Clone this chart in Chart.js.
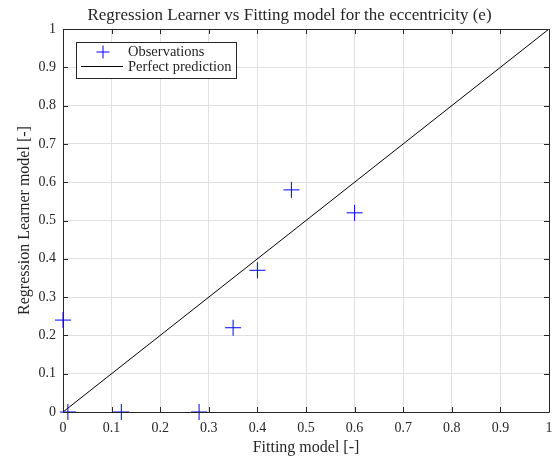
<!DOCTYPE html>
<html>
<head>
<meta charset="utf-8">
<script src="https://cdn.jsdelivr.net/npm/chart.js@4/dist/chart.umd.min.js"></script>
<style>
  html, body { margin: 0; padding: 0; background: #fff; }
  #wrap { width: 553px; height: 461px; }
</style>
</head>
<body>
<div id="wrap"><canvas id="grafico" width="553" height="461"></canvas></div>
<script>
// Eccentricity values: fitting model (x) vs regression learner (y)
const fittingModel = [0, 0.01, 0.12, 0.28, 0.35, 0.40, 0.47, 0.60];
const learnerModel = [0.24, 0, 0, 0, 0.22, 0.37, 0.58, 0.52];
const perfectLine = [0, 1];
const tickLabels = ['0', '0.1', '0.2', '0.3', '0.4', '0.5', '0.6', '0.7', '0.8', '0.9', '1'];

const chartTitle = 'Regression Learner vs Fitting model for the eccentricity (e)';
const xTitle = 'Fitting model [-]';
const yTitle = 'Regression Learner model [-]';

const SERIF = '"Liberation Serif", "DejaVu Serif", serif';
const INK = '#262626';

// title, box, inward ticks and legend drawn the way MATLAB does
const matlabLook = {
  id: 'matlabLook',
  afterDatasetsDraw(chart) {
    const { ctx, chartArea: a, scales } = chart;
    ctx.save();
    ctx.strokeStyle = INK;
    ctx.lineWidth = 1;
    ctx.beginPath();
    ctx.rect(Math.round(a.left) + 0.5, Math.round(a.top) + 0.5,
             Math.round(a.right - a.left), Math.round(a.bottom - a.top));
    ctx.stroke();

    const tl = 5;
    ctx.beginPath();
    scales.x.ticks.forEach(t => {
      const px = Math.round(scales.x.getPixelForValue(t.value)) + 0.5;
      ctx.moveTo(px, a.bottom); ctx.lineTo(px, a.bottom - tl);
      ctx.moveTo(px, a.top); ctx.lineTo(px, a.top + tl);
    });
    scales.y.ticks.forEach(t => {
      const py = Math.round(scales.y.getPixelForValue(t.value)) + 0.5;
      ctx.moveTo(a.left, py); ctx.lineTo(a.left + tl, py);
      ctx.moveTo(a.right, py); ctx.lineTo(a.right - tl, py);
    });
    ctx.stroke();

    // title
    ctx.fillStyle = INK;
    ctx.font = '17px ' + SERIF;
    ctx.textAlign = 'center';
    ctx.textBaseline = 'alphabetic';
    ctx.fillText(chartTitle, 289.5, 20);

    // legend
    const lx = 76.5, ly = 42.5, lw = 160, lh = 36;
    ctx.fillStyle = '#fff';
    ctx.fillRect(lx, ly, lw, lh);
    ctx.strokeStyle = INK;
    ctx.strokeRect(lx, ly, lw, lh);

    const ds = chart.data.datasets;
    ctx.strokeStyle = ds[0].borderColor;
    ctx.beginPath();
    ctx.moveTo(96.5, 52); ctx.lineTo(109.5, 52);
    ctx.moveTo(103, 45.5); ctx.lineTo(103, 58.5);
    ctx.stroke();

    ctx.strokeStyle = ds[1].borderColor;
    ctx.beginPath();
    ctx.moveTo(81, 66.5); ctx.lineTo(123, 66.5);
    ctx.stroke();

    ctx.fillStyle = INK;
    ctx.font = '14.5px ' + SERIF;
    ctx.textAlign = 'left';
    ctx.textBaseline = 'middle';
    ctx.fillText(ds[0].label, 128, 52);
    ctx.fillText(ds[1].label, 128, 67);
    ctx.restore();
  }
};

new Chart(document.getElementById('grafico'), {
  type: 'scatter',
  data: {
    datasets: [{
      label: 'Observations',
      data: fittingModel.map((x, i) => ({ x, y: learnerModel[i] })),
      pointStyle: 'cross',
      pointRadius: 8,
      pointHoverRadius: 8,
      borderColor: '#0000ff',
      backgroundColor: '#0000ff',
      borderWidth: 1,
      clip: false,
      order: 1
    }, {
      label: 'Perfect prediction',
      type: 'line',
      data: perfectLine.map(v => ({ x: v, y: v })),
      borderColor: '#000000',
      borderWidth: 1,
      pointRadius: 0,
      fill: false,
      order: 2
    }]
  },
  options: {
    responsive: false,
    animation: false,
    layout: { autoPadding: false, padding: { top: 29, right: 4, left: 0, bottom: 0 } },
    plugins: {
      legend: { display: false },
      title: { display: false },
      tooltip: { enabled: false }
    },
    scales: {
      x: {
        type: 'linear',
        min: 0, max: 1,
        border: { display: false },
        grid: { color: '#e0e0e0', drawTicks: false },
        ticks: {
          stepSize: 0.1,
          padding: 8,
          color: INK,
          font: { family: SERIF, size: 14 },
          callback: (v, i) => tickLabels[i]
        },
        title: {
          display: true,
          text: xTitle,
          color: INK,
          font: { family: SERIF, size: 16 },
          padding: { top: 0, bottom: 4 }
        },
        afterFit: s => { s.height = 49; s.paddingLeft = 0; s.paddingRight = 0; }
      },
      y: {
        type: 'linear',
        min: 0, max: 1,
        border: { display: false },
        grid: { color: '#e0e0e0', drawTicks: false },
        ticks: {
          stepSize: 0.1,
          padding: 7,
          color: INK,
          font: { family: SERIF, size: 14 },
          callback: (v, i) => tickLabels[i]
        },
        title: {
          display: true,
          text: yTitle,
          color: INK,
          font: { family: SERIF, size: 16 },
          padding: { top: 15, bottom: 0 }
        },
        afterFit: s => { s.width = 63; }
      }
    }
  },
  plugins: [matlabLook]
});
</script>
</body>
</html>
